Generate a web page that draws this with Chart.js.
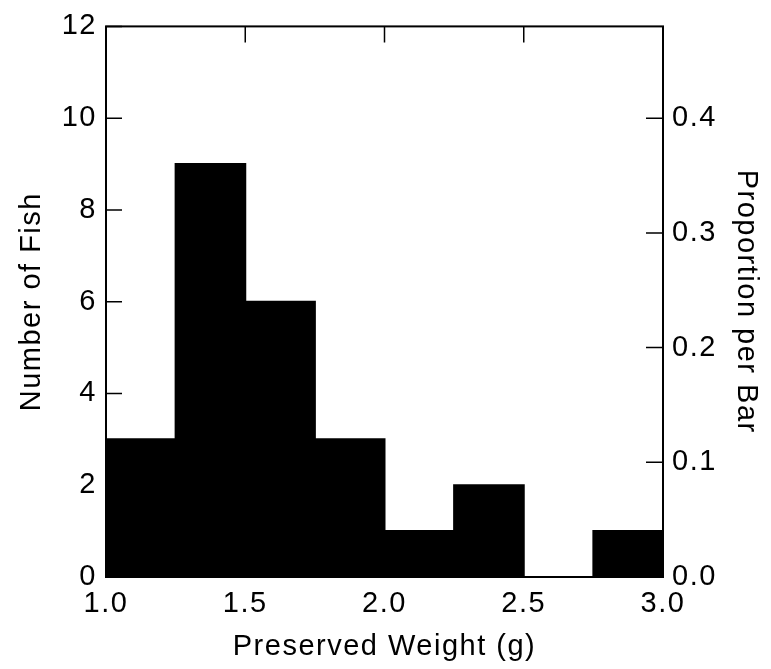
<!DOCTYPE html>
<html>
<head>
<meta charset="utf-8">
<script src="https://cdn.jsdelivr.net/npm/chart.js@4"></script>
<style>
  html, body { margin: 0; padding: 0; background: #fff; }
  #wrap { width: 771px; height: 669px; }
</style>
</head>
<body>
<div id="wrap"><canvas id="fishChart" width="771" height="669"></canvas></div>
<script>
(function () {
  "use strict";

  // histogram bins (left edge) and counts per bin
  const binStarts = [1.0, 1.25, 1.5, 1.75, 2.0, 2.25, 2.5, 2.75];
  const binWidth = 0.25;
  const fishCounts = [3, 9, 6, 3, 1, 2, 0, 1];
  const totalFish = 25;

  const weightTicks = [1.0, 1.5, 2.0, 2.5, 3.0];
  const countTicks = [0, 2, 4, 6, 8, 10, 12];
  const proportionTicks = [0.0, 0.1, 0.2, 0.3, 0.4];

  const font = "\"Liberation Sans\", Arial, Helvetica, sans-serif";
  const box = { left: 106, right: 108, top: 22, bottom: 92 };

  const fixedTicks = list => scale => {
    scale.ticks = list.map(v => ({ value: v }));
  };
  const fixWidth = w => scale => { scale.width = w; };
  const fixHeight = h => scale => { scale.height = h; };

  // frame and inward tick marks
  const framePlugin = {
    id: "frame",
    beforeLayout(chart) { chart.ctx.letterSpacing = "1.5px"; },
    beforeDraw(chart) { chart.ctx.letterSpacing = "1.5px"; },
    afterDatasetsDraw(chart) {
      const { ctx, chartArea: a, scales } = chart;
      ctx.save();
      ctx.strokeStyle = "#000";
      ctx.lineWidth = 2;
      ctx.strokeRect(a.left, a.top, a.right - a.left, a.bottom - a.top);
      ctx.lineWidth = 1.5;
      ctx.beginPath();
      countTicks.forEach(v => {
        const y = scales.y.getPixelForValue(v);
        ctx.moveTo(a.left, y); ctx.lineTo(a.left + 16, y);
      });
      proportionTicks.forEach(v => {
        const y = scales.y1.getPixelForValue(v);
        ctx.moveTo(a.right, y); ctx.lineTo(a.right - 17, y);
      });
      weightTicks.forEach(v => {
        const x = scales.x.getPixelForValue(v);
        ctx.moveTo(x, a.top); ctx.lineTo(x, a.top + 16);
      });
      ctx.stroke();
      ctx.restore();
    }
  };

  Chart.defaults.font.family = font;
  Chart.defaults.color = "#000";
  Chart.defaults.animation = false;

  new Chart(document.getElementById("fishChart"), {
    type: "bar",
    data: {
      datasets: [{
        label: "Number of Fish",
        data: binStarts.map((s, i) => ({ x: s + binWidth / 2, y: fishCounts[i] })),
        backgroundColor: "#000",
        borderWidth: 0,
        inflateAmount: 1,
        barPercentage: 1,
        categoryPercentage: 1,
        yAxisID: "y"
      }]
    },
    options: {
      responsive: false,
      layout: { padding: 0 },
      plugins: { legend: { display: false }, tooltip: { enabled: false } },
      scales: {
        x: {
          type: "linear",
          position: "bottom",
          min: 1.0,
          max: 3.0,
          offset: false,
          afterBuildTicks: fixedTicks(weightTicks),
          afterFit: fixHeight(box.bottom),
          grid: { display: false, drawTicks: false },
          border: { display: false },
          ticks: { padding: 10, font: { size: 29 }, callback: v => Number(v).toFixed(1), maxRotation: 0 },
          title: { display: true, text: "Preserved Weight (g)", font: { size: 29, lineHeight: 1.2 }, padding: { top: 0, bottom: 5 } }
        },
        x2: {
          type: "linear",
          position: "top",
          min: 1.0,
          max: 3.0,
          afterFit: fixHeight(box.top),
          grid: { display: false, drawTicks: false },
          border: { display: false },
          ticks: { display: false }
        },
        y: {
          type: "linear",
          position: "left",
          min: 0,
          max: 12,
          afterBuildTicks: fixedTicks(countTicks),
          afterFit: fixWidth(box.left),
          grid: { display: false, drawTicks: false },
          border: { display: false },
          ticks: { padding: 9, font: { size: 29 } },
          title: { display: true, text: "Number of Fish", font: { size: 29, lineHeight: 1.2 }, padding: { top: 15, bottom: 0 } }
        },
        y1: {
          type: "linear",
          position: "right",
          min: 0,
          max: 12 / totalFish,
          afterBuildTicks: fixedTicks(proportionTicks),
          afterFit: fixWidth(box.right),
          grid: { display: false, drawTicks: false },
          border: { display: false },
          ticks: { padding: 9, font: { size: 29 }, callback: v => Number(v).toFixed(1) },
          title: { display: true, text: "Proportion per Bar", font: { size: 29, lineHeight: 1.2 }, padding: { top: 8, bottom: 0 } }
        }
      }
    },
    plugins: [framePlugin]
  });
})();
</script>
</body>
</html>
